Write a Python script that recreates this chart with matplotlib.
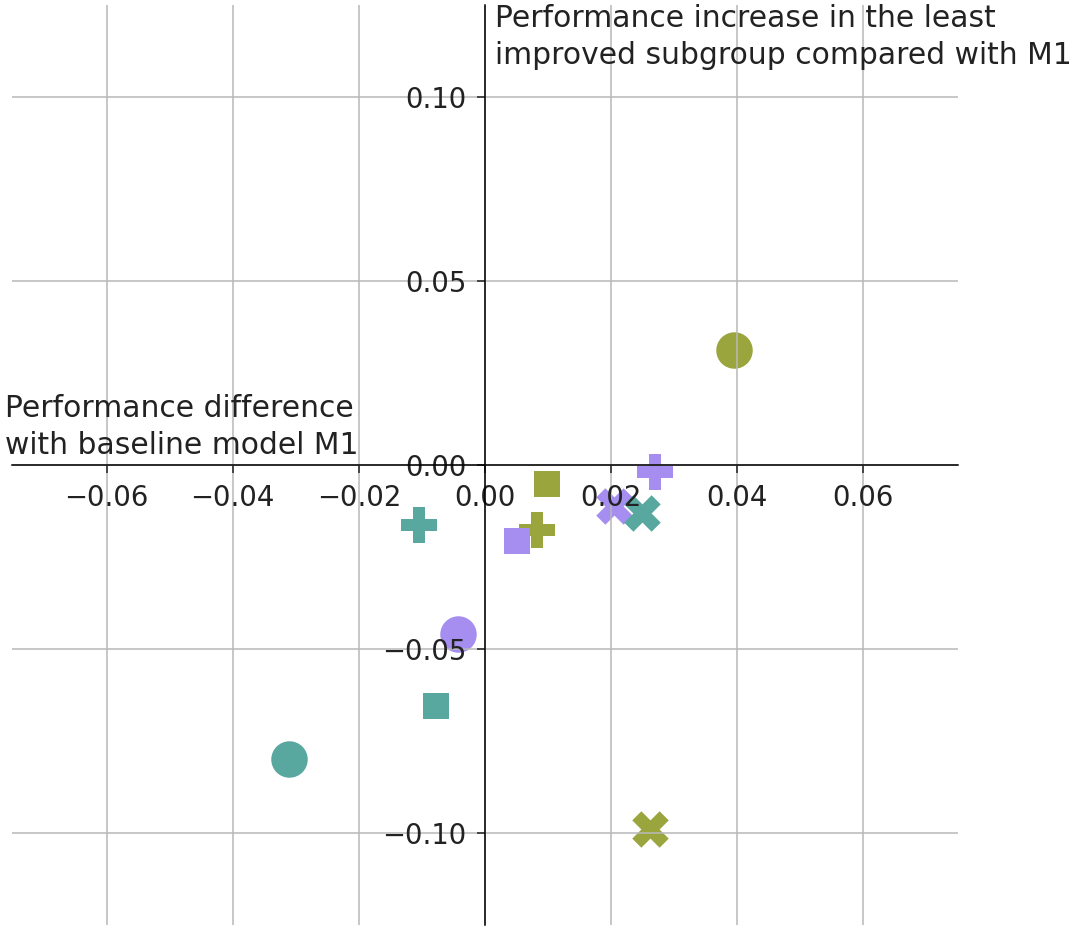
import matplotlib
matplotlib.use("Agg")
import matplotlib.pyplot as plt

# data: one entry per (model colour, metric marker)
models = ["olive", "purple", "teal"]
metrics = ["circle", "cross", "square", "plus"]
x_olive = [0.0395, 0.0262, 0.0098, 0.0083]
y_olive = [0.0312, -0.0989, -0.0052, -0.0177]
x_purple = [-0.0043, 0.0205, 0.0051, 0.0270]
y_purple = [-0.0459, -0.0111, -0.0207, -0.0019]
x_teal = [-0.0310, 0.0249, -0.0078, -0.0105]
y_teal = [-0.0799, -0.0130, -0.0655, -0.0163]

colors = {"olive": "#9ba53e", "purple": "#a58ef0", "teal": "#58a8a0"}
markers = {"circle": "o", "cross": "X", "square": (4, 0, 45), "plus": "P"}
xs = {"olive": x_olive, "purple": x_purple, "teal": x_teal}
ys = {"olive": y_olive, "purple": y_purple, "teal": y_teal}

fig = plt.figure(figsize=(10.76, 9.34), dpi=100)
ax = fig.add_axes([12 / 1076, 9 / 934, 946 / 1076, 920 / 934])

for m in models:
    for i, met in enumerate(metrics):
        ax.scatter(xs[m][i], ys[m][i], s=690, marker=markers[met],
                   color=colors[m], linewidths=0, zorder=1)

ax.set_xlim(-0.075, 0.075)
ax.set_ylim(-0.125, 0.125)
ax.set_xticks([-0.06, -0.04, -0.02, 0.0, 0.02, 0.04, 0.06])
ax.set_yticks([-0.10, -0.05, 0.0, 0.05, 0.10])
ax.set_xticklabels([f"{v:.2f}".replace("-", "\u2212") for v in ax.get_xticks()])
ax.set_yticklabels([f"{v:.2f}".replace("-", "\u2212") for v in ax.get_yticks()])
ax.tick_params(labelsize=19.8, length=5.5, width=1.1, pad=8, colors="#222222")
ax.grid(True, color="#b8b8b8", linewidth=1.1, zorder=2)
ax.set_axisbelow(False)

ax.spines["left"].set_position(("data", 0))
ax.spines["bottom"].set_position(("data", 0))
ax.spines["right"].set_visible(False)
ax.spines["top"].set_visible(False)
for sp in ("left", "bottom"):
    ax.spines[sp].set_zorder(3)
    ax.spines[sp].set_linewidth(1.1)

fig.text(495 / 1076, 1 - 4 / 934,
         "Performance increase in the least\nimproved subgroup compared with M1",
         fontsize=21.4, ha="left", va="top", linespacing=1.33, color="#222222")
fig.text(5 / 1076, 1 - 460 / 934,
         "Performance difference\nwith baseline model M1",
         fontsize=21.4, ha="left", va="bottom", linespacing=1.33, color="#222222")

fig.savefig("out.png", dpi=100)
